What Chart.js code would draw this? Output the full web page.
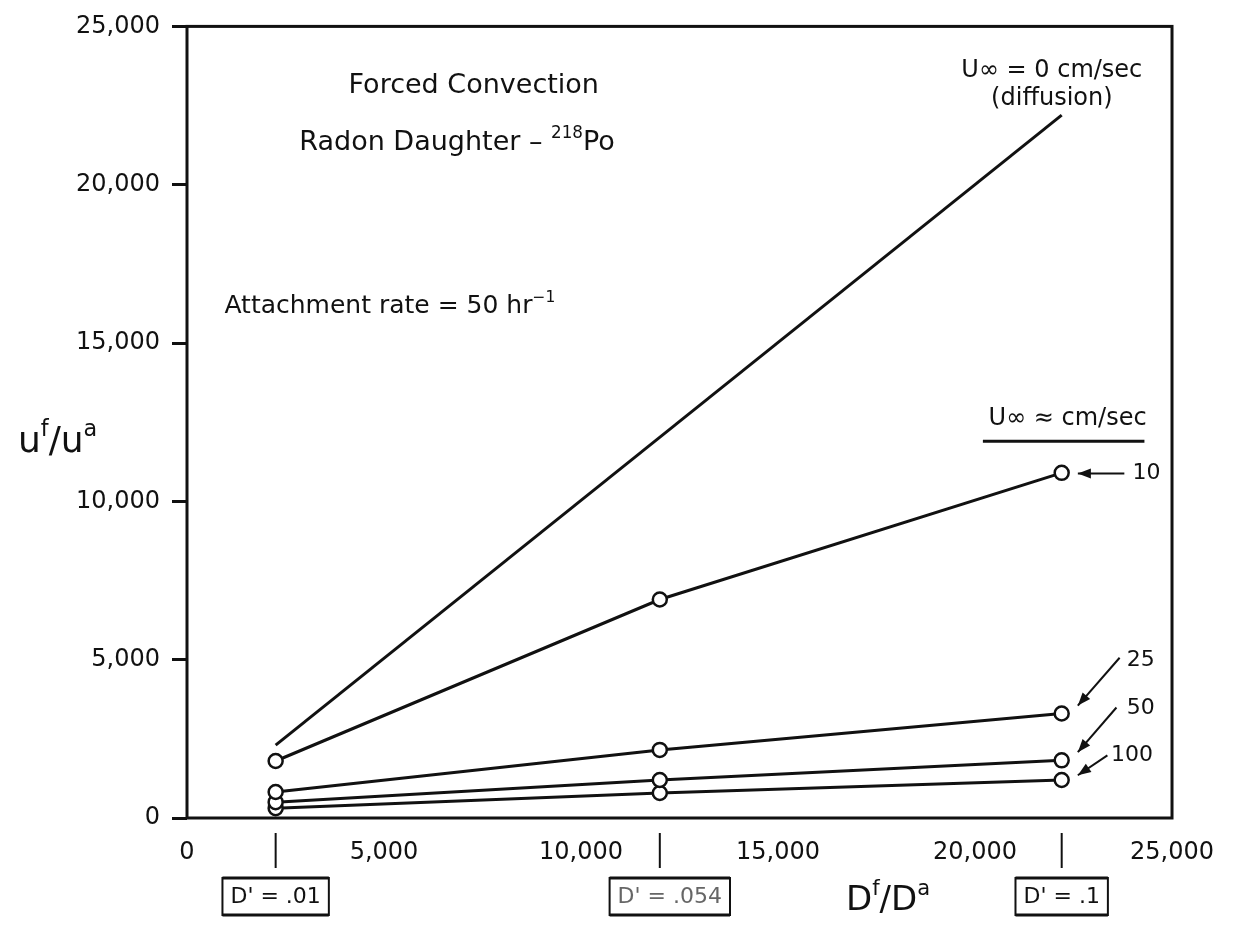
<!DOCTYPE html>
<html>
<head>
<meta charset="utf-8">
<script src="https://cdn.jsdelivr.net/npm/chart.js@4.4.1/dist/chart.umd.min.js"></script>
<style>
html, body { margin: 0; padding: 0; background: #fff; }
</style>
</head>
<body>
<canvas id="grafico" width="1234" height="932"></canvas>
<script>
// Df/Da of the three runs (D' = .01, .054, .1)
const ratioDf = [2250, 12000, 22200];
const boxLabels = ["D' = .01", "D' = .054", "D' = .1"];
// pure diffusion line (no markers)
const ratioDiff = [2250, 22200];
const uDiffusion = [2300, 22200];
// forced convection, U = 10, 25, 50, 100 cm/sec
const u10 = [1800, 6900, 10900];
const u25 = [820, 2150, 3300];
const u50 = [500, 1200, 1820];
const u100 = [310, 790, 1200];
const speedLabels = ['10', '25', '50', '100'];
const tickStep = 5000;
const axisMax = 25000;

const FONT = '"DejaVu Sans", sans-serif';

function pares(xs, ys) {
    var out = [];
    for (var i = 0; i < xs.length; i++) {
        out.push({ x: xs[i], y: ys[i] });
    }
    return out;
}

function serie(ys, conMarca) {
    return {
        data: pares(conMarca ? ratioDf : ratioDiff, ys),
        borderColor: '#111',
        borderWidth: 3,
        tension: 0,
        fill: false,
        pointRadius: conMarca ? 7 : 0,
        pointBorderWidth: 2.5,
        pointBorderColor: '#111',
        pointBackgroundColor: '#fff'
    };
}

// text with optional superscripts: parts = [[text, isSup], ...]
function textoRico(ctx, parts, x, y, size, align, color) {
    var w = 0;
    parts.forEach(function (p) {
        ctx.font = (p[1] ? size * 0.62 : size) + 'px ' + FONT;
        w += ctx.measureText(p[0]).width;
    });
    var cx = align === 'center' ? x - w / 2 : x;
    ctx.fillStyle = color || '#111';
    ctx.textAlign = 'left';
    ctx.textBaseline = 'alphabetic';
    parts.forEach(function (p) {
        ctx.font = (p[1] ? size * 0.62 : size) + 'px ' + FONT;
        ctx.fillText(p[0], cx, p[1] ? y - size * 0.45 : y);
        cx += ctx.measureText(p[0]).width;
    });
    return w;
}

function flecha(ctx, x1, y1, x2, y2) {
    var ang = Math.atan2(y2 - y1, x2 - x1);
    ctx.strokeStyle = '#111';
    ctx.fillStyle = '#111';
    ctx.lineWidth = 2;
    ctx.beginPath();
    ctx.moveTo(x1, y1);
    ctx.lineTo(x2, y2);
    ctx.stroke();
    ctx.beginPath();
    ctx.moveTo(x2, y2);
    ctx.lineTo(x2 - 13 * Math.cos(ang) + 5 * Math.sin(ang), y2 - 13 * Math.sin(ang) - 5 * Math.cos(ang));
    ctx.lineTo(x2 - 13 * Math.cos(ang) - 5 * Math.sin(ang), y2 - 13 * Math.sin(ang) + 5 * Math.cos(ang));
    ctx.closePath();
    ctx.fill();
}

const marco = {
    id: 'marco',
    beforeDatasetsDraw: function (chart) {
        const ctx = chart.ctx;
        const a = chart.chartArea;
        ctx.save();
        ctx.strokeStyle = '#111';
        ctx.lineWidth = 3;
        ctx.strokeRect(a.left, a.top, a.right - a.left, a.bottom - a.top);
        ctx.restore();
    },
    afterDraw: function (chart) {
        const ctx = chart.ctx;
        const sx = chart.scales.x;
        const sy = chart.scales.y;
        const X = function (v) { return sx.getPixelForValue(v); };
        const Y = function (v) { return sy.getPixelForValue(v); };
        ctx.save();

        // titles inside the plot
        textoRico(ctx, [['Forced Convection', 0]], X(4100), Y(22900), 27, 'left');
        textoRico(ctx, [['Radon Daughter \u2013 ', 0], ['218', 1], ['Po', 0]], X(2850), Y(21100), 27, 'left');
        textoRico(ctx, [['Attachment rate = 50 hr', 0], ['\u22121', 1]], X(950), Y(15950), 25, 'left');

        // diffusion label
        textoRico(ctx, [['U\u221E = 0 cm/sec', 0]], X(21950), Y(23400), 24, 'center');
        textoRico(ctx, [['(diffusion)', 0]], X(21950), Y(22520), 24, 'center');

        // speed legend
        textoRico(ctx, [['U\u221E \u2248 cm/sec', 0]], X(22350), Y(12400), 24, 'center');
        ctx.strokeStyle = '#111';
        ctx.lineWidth = 3;
        ctx.beginPath();
        ctx.moveTo(X(20200), Y(11900));
        ctx.lineTo(X(24300), Y(11900));
        ctx.stroke();

        // speed labels and leaders (arrow tip next to the last marker)
        const lbl = [[24000, 10880], [23850, 4970], [23850, 3460], [23450, 1980]];
        const ini = [[23790, 10880], [23670, 5060], [23590, 3490], [23360, 1980]];
        const fin = [[22610, 10880], [22610, 3550], [22610, 2080], [22610, 1350]];
        for (var i = 0; i < speedLabels.length; i++) {
            ctx.font = '22px ' + FONT;
            ctx.fillStyle = '#111';
            ctx.textAlign = 'left';
            ctx.textBaseline = 'middle';
            ctx.fillText(speedLabels[i], X(lbl[i][0]), Y(lbl[i][1]));
            flecha(ctx, X(ini[i][0]), Y(ini[i][1]), X(fin[i][0]), Y(fin[i][1]));
        }

        // D' markers under the x axis
        for (var j = 0; j < ratioDf.length; j++) {
            var px = X(ratioDf[j]);
            ctx.strokeStyle = '#111';
            ctx.lineWidth = 2;
            ctx.beginPath();
            ctx.moveTo(px, sy.bottom + 15);
            ctx.lineTo(px, sy.bottom + 50);
            ctx.stroke();

            ctx.font = '22px ' + FONT;
            var tw = ctx.measureText(boxLabels[j]).width;
            var cxb = j === 1 ? px + 10 : px;
            var bx = cxb - tw / 2 - 8, by = sy.bottom + 60, bw = tw + 16, bh = 37;
            ctx.lineWidth = 2;
            ctx.strokeRect(bx, by, bw, bh);
            ctx.lineWidth = 3;
            ctx.beginPath();
            ctx.moveTo(bx, by); ctx.lineTo(bx + bw, by);
            ctx.moveTo(bx, by + bh); ctx.lineTo(bx + bw, by + bh);
            ctx.stroke();
            ctx.fillStyle = j === 1 ? '#666' : '#111';
            ctx.textAlign = 'center';
            ctx.textBaseline = 'middle';
            ctx.fillText(boxLabels[j], cxb, by + bh / 2 + 1);
        }

        // axis titles
        textoRico(ctx, [['D', 0], ['f', 1], ['/D', 0], ['a', 1]], 846, 910, 34, 'left');
        textoRico(ctx, [['u', 0], ['f', 1], ['/u', 0], ['a', 1]], 18, 452, 36, 'left');
        ctx.restore();
    }
};

const ctx = document.getElementById('grafico').getContext('2d');
const grafico = new Chart(ctx, {
    type: 'line',
    data: {
        datasets: [
            serie(uDiffusion, false),
            serie(u10, true),
            serie(u25, true),
            serie(u50, true),
            serie(u100, true)
        ]
    },
    options: {
        responsive: false,
        animation: false,
        layout: { padding: { top: 23, right: 57, left: 0, bottom: 0 } },
        plugins: {
            legend: { display: false },
            tooltip: { enabled: false }
        },
        scales: {
            x: {
                type: 'linear',
                min: 0,
                max: axisMax,
                grid: { display: false, drawTicks: false },
                border: { display: false },
                ticks: {
                    stepSize: tickStep,
                    autoSkip: false,
                    maxRotation: 0,
                    padding: 20,
                    color: '#111',
                    font: { family: FONT, size: 24 },
                    callback: function (v) { return v.toLocaleString('en-US'); }
                },
                afterFit: function (s) { s.height = 114; }
            },
            y: {
                type: 'linear',
                min: 0,
                max: axisMax,
                grid: {
                    display: true,
                    drawOnChartArea: false,
                    tickLength: 15,
                    tickWidth: 3,
                    tickColor: '#111'
                },
                border: { display: false },
                ticks: {
                    stepSize: tickStep,
                    padding: 12,
                    color: '#111',
                    font: { family: FONT, size: 24 },
                    callback: function (v) { return v.toLocaleString('en-US'); }
                },
                afterFit: function (s) { s.width = 187; }
            }
        }
    },
    plugins: [marco]
});
</script>
</body>
</html>
